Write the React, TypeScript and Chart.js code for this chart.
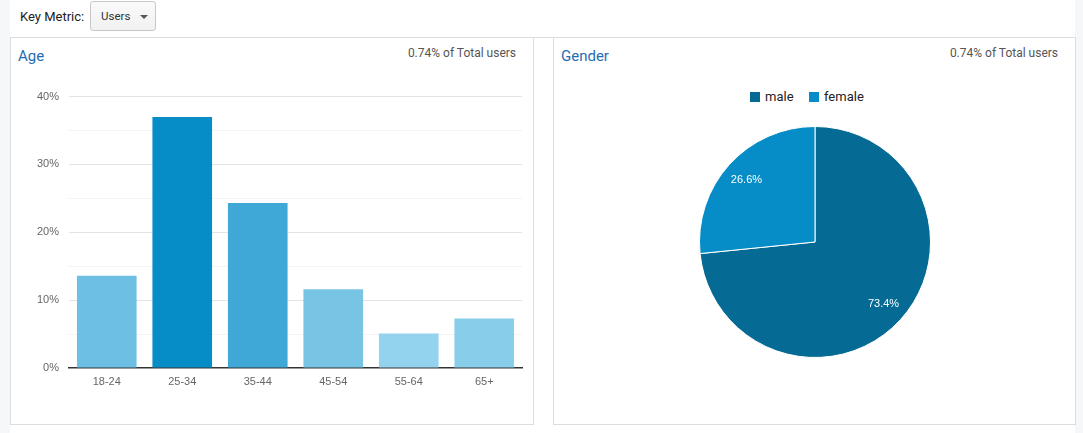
import React, { useEffect, useRef } from "react";
import { Chart, registerables } from "chart.js";

Chart.register(...registerables);

const ageCategories = ["18-24", "25-34", "35-44", "45-54", "55-64", "65+"];
const ageValues = [13.6, 37.0, 24.3, 11.6, 5.1, 7.3];
const ageColors = ["#6dbfe3", "#068dc7", "#3fa8d7", "#78c4e4", "#93d3ee", "#88cde9"];
const yTickValues = [0, 10, 20, 30, 40];

const genderLabels = ["male", "female"];
const genderValues = [73.4, 26.6];
const genderColors = ["#056b94", "#068dc7"];

const pieLabelPlugin = {
  id: "pieLabels",
  afterDatasetsDraw(chart: any) {
    const ctx = chart.ctx;
    const meta = chart.getDatasetMeta(0);
    const data = chart.data.datasets[0].data as number[];
    ctx.save();
    ctx.fillStyle = "#ffffff";
    ctx.font = "11px 'Liberation Sans', Arial, sans-serif";
    ctx.textAlign = "center";
    ctx.textBaseline = "middle";
    meta.data.forEach((arc: any, i: number) => {
      const mid = (arc.startAngle + arc.endAngle) / 2;
      const r = arc.outerRadius * 0.8;
      const x = arc.x + Math.cos(mid) * r;
      const y = arc.y + Math.sin(mid) * r;
      ctx.fillText(data[i].toFixed(1) + "%", x, y);
    });
    ctx.restore();
  },
};

function AgeChart() {
  const ref = useRef<HTMLCanvasElement>(null);
  useEffect(() => {
    const chart = new Chart(ref.current!, {
      type: "bar",
      data: {
        labels: ageCategories,
        datasets: [
          {
            data: ageValues,
            backgroundColor: ageColors,
            borderWidth: 0,
            barPercentage: 0.79,
            categoryPercentage: 1,
          },
        ],
      },
      options: {
        animation: false,
        responsive: false,
        maintainAspectRatio: false,
        layout: { padding: { top: 14, right: 10, left: 0, bottom: 0 } },
        plugins: { legend: { display: false }, tooltip: { enabled: false } },
        scales: {
          x: {
            grid: { display: false, drawTicks: false },
            border: { display: true, color: "#333333", width: 1.5 },
            ticks: {
              color: "#666666",
              font: { family: "'Liberation Sans', Arial, sans-serif", size: 11 },
              padding: 7,
              maxRotation: 0,
            },
            afterFit(scale: any) {
              scale.height = 42;
            },
          },
          y: {
            min: 0,
            max: 40,
            ticks: {
              stepSize: 5,
              color: "#666666",
              padding: 10,
              font: { family: "'Liberation Sans', Arial, sans-serif", size: 11 },
              callback: (v: any) => (yTickValues.includes(Number(v)) ? v + "%" : ""),
            },
            grid: {
              drawTicks: false,
              color: (c: any) => {
                const v = c.tick ? c.tick.value : 0;
                if (v === 0) return "rgba(0,0,0,0)";
                return v % 10 === 0 ? "#e4e4e4" : "#f3f3f3";
              },
            },
            border: { display: false },
            afterFit(scale: any) {
              scale.width = 58;
            },
          },
        },
      },
    });
    return () => chart.destroy();
  }, []);
  return (
    <canvas
      ref={ref}
      width={521}
      height={330}
      style={{ position: "absolute", left: 11, top: 80, width: 521, height: 330 }}
    />
  );
}

function GenderChart() {
  const ref = useRef<HTMLCanvasElement>(null);
  useEffect(() => {
    const chart = new Chart(ref.current!, {
      type: "pie",
      data: {
        labels: genderLabels,
        datasets: [
          {
            data: genderValues,
            backgroundColor: genderColors,
            borderColor: "#ffffff",
            borderWidth: 1,
          },
        ],
      },
      options: {
        animation: false,
        responsive: false,
        maintainAspectRatio: false,
        layout: { padding: 9 },
        plugins: { legend: { display: false }, tooltip: { enabled: false } },
      },
      plugins: [pieLabelPlugin],
    });
    return () => chart.destroy();
  }, []);
  return (
    <canvas
      ref={ref}
      width={250}
      height={250}
      style={{ position: "absolute", left: 690, top: 117, width: 250, height: 250 }}
    />
  );
}

const abs = (s: React.CSSProperties): React.CSSProperties => ({ position: "absolute", ...s });

export default function App() {
  useEffect(() => {
    document.body.style.margin = "0";
  }, []);
  const font = "Roboto, 'Liberation Sans', Arial, sans-serif";
  return (
    <div style={{ position: "relative", width: 1083, height: 433, background: "#ffffff", overflow: "hidden", fontFamily: font }}>
      <div style={abs({ left: 0, top: 0, width: 10, height: 433, background: "#f6f7f9" })} />
      <div style={abs({ left: 1075, top: 0, width: 8, height: 433, background: "#f6f7f9" })} />
      <div style={abs({ left: 20, top: 8, fontSize: 13, color: "#222", lineHeight: "18px" })}>Key Metric:</div>
      <div
        style={abs({
          left: 90,
          top: 1,
          width: 64,
          height: 28,
          border: "1px solid #c8c8c8",
          borderRadius: 3,
          background: "linear-gradient(#fafafa, #f1f1f1)",
        })}
      >
        <div style={abs({ left: 10, top: 7, fontSize: 11.5, color: "#333", lineHeight: "14px" })}>Users</div>
        <div
          style={abs({
            left: 49,
            top: 13,
            width: 0,
            height: 0,
            borderLeft: "4px solid transparent",
            borderRight: "4px solid transparent",
            borderTop: "4px solid #555",
          })}
        />
      </div>
      <div style={abs({ left: 10, top: 37, width: 1065, height: 1, background: "#dddddd" })} />
      <div style={abs({ left: 10, top: 37, width: 522, height: 387, border: "1px solid #dddddd", borderTop: "none" })} />
      <div style={abs({ left: 553, top: 37, width: 521, height: 387, border: "1px solid #dddddd", borderTop: "none" })} />

      <div style={abs({ left: 18, top: 46, fontSize: 15, color: "#1f6db2", lineHeight: "20px" })}>Age</div>
      <div style={abs({ left: 300, width: 216, top: 45, fontSize: 12, color: "#555", lineHeight: "16px", textAlign: "right" })}>
        0.74% of Total users
      </div>
      <div style={abs({ left: 561, top: 46, fontSize: 15, color: "#1f6db2", lineHeight: "20px" })}>Gender</div>
      <div style={abs({ left: 842, width: 216, top: 45, fontSize: 12, color: "#555", lineHeight: "16px", textAlign: "right" })}>
        0.74% of Total users
      </div>

      <div style={abs({ left: 750, top: 92, width: 10, height: 10, background: genderColors[0] })} />
      <div style={abs({ left: 765, top: 89, fontSize: 13, color: "#222", lineHeight: "16px" })}>{genderLabels[0]}</div>
      <div style={abs({ left: 809, top: 92, width: 10, height: 10, background: genderColors[1] })} />
      <div style={abs({ left: 824, top: 89, fontSize: 13, color: "#222", lineHeight: "16px" })}>{genderLabels[1]}</div>

      <AgeChart />
      <GenderChart />
    </div>
  );
}
